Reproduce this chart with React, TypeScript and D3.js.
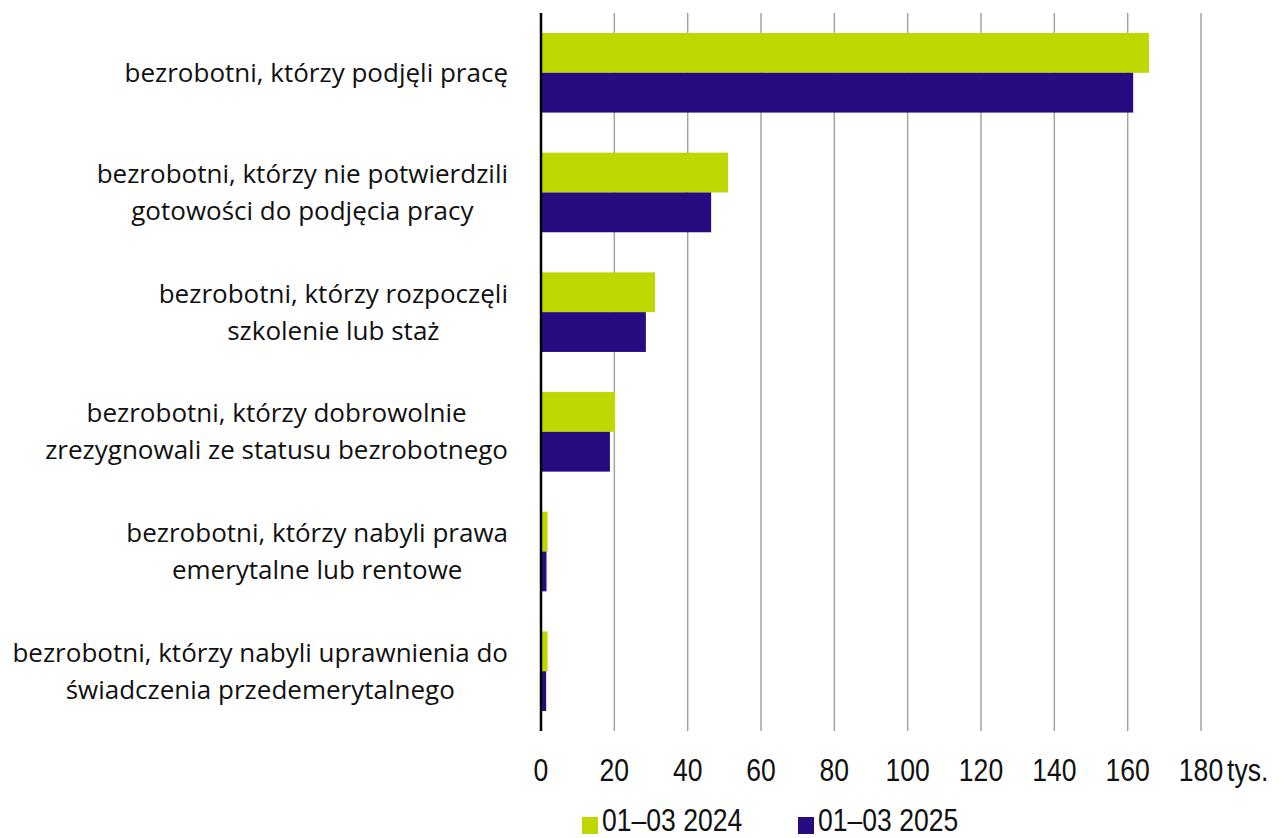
import React, { useEffect, useRef } from 'react';
import * as d3 from 'd3';

const categories = [
  'bezrobotni, którzy podjęli pracę',
  'bezrobotni, którzy nie potwierdzili\ngotowości do podjęcia pracy',
  'bezrobotni, którzy rozpoczęli\nszkolenie lub staż',
  'bezrobotni, którzy dobrowolnie\nzrezygnowali ze statusu bezrobotnego',
  'bezrobotni, którzy nabyli prawa\nemerytalne lub rentowe',
  'bezrobotni, którzy nabyli uprawnienia do\nświadczenia przedemerytalnego',
];
const values2024 = [165.8, 51.0, 31.1, 20.2, 1.8, 1.8];
const values2025 = [161.5, 46.4, 28.6, 18.8, 1.5, 1.4];
const seriesNames = ['01–03 2024', '01–03 2025'];
const xTicks = [0, 20, 40, 60, 80, 100, 120, 140, 160, 180];
const unitLabel = 'tys.';

const GREEN = '#bfd700';
const PURPLE = '#270b80';
const NUM_FONT = '"Liberation Sans", Arial, sans-serif';
const SQUEEZE = 0.83; // tick/legend font is a condensed face in the original

const App = () => {
  const svgRef = useRef<SVGSVGElement>(null);

  useEffect(() => {
    const svg = d3.select(svgRef.current);
    svg.selectAll('*').remove();

    const left = 541;
    const right = 1201;
    const top = 13;
    const bottom = 731;

    const x = d3.scaleLinear().domain([0, 180]).range([left, right]);
    const y = d3.scaleBand<number>()
      .domain(d3.range(categories.length))
      .range([top, bottom])
      .paddingInner(0.335)
      .paddingOuter(0.167);
    const half = y.bandwidth() / 2;

    const narrowText = (tx: number, ty: number, txt: string, anchor: string) =>
      svg.append('text')
        .attr('transform', `translate(${tx},${ty}) scale(${SQUEEZE},1)`)
        .attr('text-anchor', anchor)
        .style('font-family', NUM_FONT)
        .style('font-size', '32px')
        .attr('fill', '#111')
        .text(txt);

    // gridlines
    svg.append('g')
      .selectAll('line')
      .data(xTicks.filter(t => t > 0))
      .enter()
      .append('line')
      .attr('x1', d => x(d))
      .attr('x2', d => x(d))
      .attr('y1', top)
      .attr('y2', bottom)
      .attr('stroke', '#a3a3a3')
      .attr('stroke-width', 1.5);

    // bars
    const series = [values2024, values2025];
    const colors = [GREEN, PURPLE];
    series.forEach((vals, s) => {
      svg.append('g')
        .selectAll('rect')
        .data(vals)
        .enter()
        .append('rect')
        .attr('x', x(0))
        .attr('y', (d, i) => (y(i) as number) + s * half)
        .attr('width', d => x(d) - x(0))
        .attr('height', half)
        .attr('fill', colors[s]);
    });

    // axis line
    svg.append('line')
      .attr('x1', x(0))
      .attr('x2', x(0))
      .attr('y1', top)
      .attr('y2', bottom)
      .attr('stroke', '#000')
      .attr('stroke-width', 2.5);

    // tick labels
    xTicks.forEach(t => narrowText(x(t), 781, String(t), 'middle'));
    narrowText(x(180) + 26, 781, unitLabel, 'start');

    // category labels: block right-aligned, lines centred inside
    const labelRight = 508;
    const lineH = 37;
    categories.forEach((c, i) => {
      const lines = c.split('\n');
      const cy = (y(i) as number) + y.bandwidth() / 2;
      const g = svg.append('g');
      const t = g.append('text')
        .attr('text-anchor', 'middle')
        .style('font-family', '"Open Sans", "Noto Sans", sans-serif')
        .style('font-size', '26px')
        .attr('fill', '#111');
      lines.forEach((ln, j) => {
        t.append('tspan')
          .attr('x', 0)
          .attr('y', cy + (j - (lines.length - 1) / 2) * lineH)
          .attr('dy', '0.35em')
          .text(ln);
      });
      const w = (t.node() as SVGTextElement).getBBox().width;
      g.attr('transform', `translate(${labelRight - w / 2},0)`);
    });

    // legend
    const legendX = [582, 798];
    seriesNames.forEach((name, s) => {
      svg.append('rect')
        .attr('x', legendX[s])
        .attr('y', 817)
        .attr('width', 16)
        .attr('height', 17)
        .attr('fill', colors[s]);
      narrowText(legendX[s] + 20, 831, name, 'start');
    });
  }, []);

  return (
    <svg
      ref={svgRef}
      width={1281}
      height={838}
      style={{ position: 'absolute', left: 0, top: 0, background: '#fff' }}
    ></svg>
  );
};

export default App;
